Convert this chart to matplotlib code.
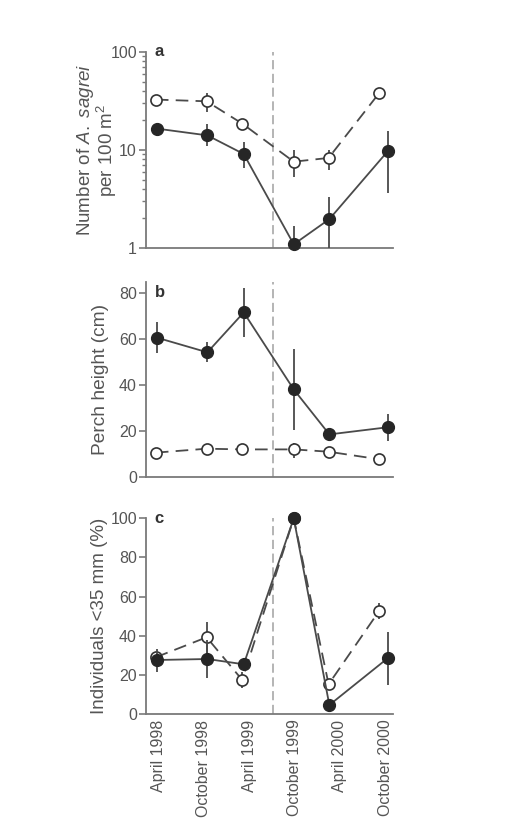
import matplotlib
matplotlib.use("Agg")
import matplotlib.pyplot as plt
import numpy as np

plt.rcParams['font.family'] = ['Liberation Sans', 'DejaVu Sans']
plt.rcParams['mathtext.fontset'] = 'custom'
plt.rcParams['mathtext.rm'] = 'Liberation Sans'
plt.rcParams['mathtext.it'] = 'Liberation Sans:italic'

# ---- data ----
tick_months = [0, 6, 12, 18, 24, 30]
tick_labels = ["April 1998", "October 1998", "April 1999",
               "October 1999", "April 2000", "October 2000"]
filled_x = [-0.1, 6.5, 11.3, 17.9, 22.6, 30.3]
open_x = [-0.3, 6.4, 11.1, 17.9, 22.5, 29.2]
hurricane_month = 15.1

# panel a: lizard numbers (log scale)
a_filled = [16.5, 14.1, 9.1, 1.09, 1.97, 9.7]
a_filled_lo = [16.5, 10.9, 6.6, 1.0, 1.0, 3.6]
a_filled_hi = [16.5, 18.6, 12.0, 1.68, 3.3, 15.8]
a_open = [32.7, 31.4, 18.6, 7.6, 8.3, 38.3]
a_open_lo = [32.7, 24.4, 18.6, 5.3, 6.3, 38.3]
a_open_hi = [32.7, 38.3, 18.6, 9.9, 9.9, 38.3]

# panel b: perch height
b_filled = [60.5, 54.2, 71.5, 38.1, 18.6, 21.7]
b_filled_lo = [53.7, 49.8, 60.9, 20.5, 18.6, 15.7]
b_filled_hi = [67.4, 58.8, 81.9, 55.6, 18.6, 27.4]
b_open = [10.7, 12.4, 12.1, 12.1, 11.1, 7.8]
b_open_lo = [10.7, 12.4, 12.1, 8.2, 11.1, 7.8]
b_open_hi = [10.7, 12.4, 12.1, 14.7, 11.1, 7.8]

# panel c: individuals < 35 mm
c_filled = [27.6, 28.1, 25.4, 100, 4.6, 28.5]
c_filled_lo = [21.6, 18.2, 25.4, 100, 4.6, 14.8]
c_filled_hi = [33.0, 38.0, 25.4, 100, 4.6, 42.1]
c_open = [29.0, 39.2, 17.4, 100, 15.2, 52.8]
c_open_lo = [29.0, 31.0, 13.1, 100, 15.2, 48.5]
c_open_hi = [29.0, 47.2, 21.7, 100, 15.2, 56.6]

# ---- style ----
W, H = 528, 832
fig = plt.figure(figsize=(W / 100, H / 100), dpi=100)
LINE = '#4a4a4a'
DARK = '#262626'
SPINE = '#7a7a7a'
TXT = '#555555'

left = 146 / W
width = 247 / W

def make_ax(top_px, bottom_px):
    return fig.add_axes([left, 1 - bottom_px / H, width, (bottom_px - top_px) / H])

ax_a = make_ax(52, 248)
ax_b = make_ax(282, 477.3)
ax_c = make_ax(518.3, 714)

def plot_series(ax, x, y, lo, hi, filled):
    y = np.array(y); lo = np.array(lo); hi = np.array(hi)
    yerr = [y - lo, hi - y]
    if filled:
        ax.errorbar(x, y, yerr=yerr, fmt='-o', color=LINE, ecolor=LINE,
                    elinewidth=1.3, lw=1.3, ms=8.5, mfc=DARK, mec=DARK,
                    capsize=0, zorder=4)
    else:
        ax.errorbar(x, y, yerr=yerr, fmt='o', color=LINE, ecolor=LINE,
                    elinewidth=1.3, ms=8, mfc='white', mec='#333333',
                    mew=1.2, capsize=0, zorder=3)
        ax.plot(x, y, color=LINE, lw=1.3, linestyle=(0, (7, 4)), zorder=2.5)

for ax in (ax_a, ax_b, ax_c):
    ax.spines['top'].set_visible(False)
    ax.spines['right'].set_visible(False)
    for s in ['left', 'bottom']:
        ax.spines[s].set_color(SPINE)
        ax.spines[s].set_linewidth(1.3)
    ax.set_xlim(-1.6, 31.0)
    ax.axvline(hurricane_month, color='#a0a0a0', lw=1.1,
               linestyle=(0, (6, 3)), zorder=1)
    ax.tick_params(axis='y', colors=SPINE, labelcolor=TXT, labelsize=11.5,
                   direction='out', length=5, width=1.2, pad=1.5)
    ax.tick_params(axis='x', length=0)
    ax.patch.set_alpha(0)

# panel a
plot_series(ax_a, open_x, a_open, a_open_lo, a_open_hi, False)
plot_series(ax_a, filled_x, a_filled, a_filled_lo, a_filled_hi, True)
ax_a.set_yscale('log')
ax_a.set_ylim(1, 100)
ax_a.set_yticks([1, 10, 100])
ax_a.set_yticklabels(['1', '10', '100'])
ax_a.tick_params(axis='y', which='minor', colors=SPINE, length=3, width=1.0)
ax_a.set_xticks([])
ax_a.set_ylabel('Number of $\\it{A.}$ $\\it{sagrei}$\nper 100 m$^2$', fontsize=13.5,
                color=TXT, linespacing=0.95)
ax_a.yaxis.set_label_coords((119 - 146) / 247, 0.5)

# panel b
plot_series(ax_b, open_x, b_open, b_open_lo, b_open_hi, False)
plot_series(ax_b, filled_x, b_filled, b_filled_lo, b_filled_hi, True)
ax_b.set_ylim(0, 84.7)
ax_b.set_yticks([0, 20, 40, 60, 80])
ax_b.set_xticks([])
ax_b.set_ylabel('Perch height (cm)', fontsize=13.8, color=TXT)
ax_b.yaxis.set_label_coords((109 - 146) / 247, 0.5)

# panel c
plot_series(ax_c, open_x, c_open, c_open_lo, c_open_hi, False)
plot_series(ax_c, filled_x, c_filled, c_filled_lo, c_filled_hi, True)
ax_c.set_ylim(0, 100)
ax_c.set_yticks([0, 20, 40, 60, 80, 100])
ax_c.set_xticks(tick_months)
ax_c.set_xticklabels(tick_labels, rotation=90, fontsize=11.5, color=TXT)
ax_c.tick_params(axis='x', pad=4)
ax_c.set_ylabel('Individuals <35 mm (%)', fontsize=13.5, color=TXT)
ax_c.yaxis.set_label_coords((108 - 146) / 247, 0.5)

for ax in (ax_a, ax_b, ax_c):
    for c in ax.get_children():
        if hasattr(c, 'set_clip_on'):
            c.set_clip_on(False)

# panel letters
for ax, letter, yfrac in [(ax_a, 'a', 1.0), (ax_b, 'b', 80 / 84.7), (ax_c, 'c', 1.0)]:
    ax.text(0.035, yfrac, letter, transform=ax.transAxes, fontsize=12,
            fontweight='bold', color='#333333', va='center', ha='left')

fig.savefig('out.png', dpi=100)
